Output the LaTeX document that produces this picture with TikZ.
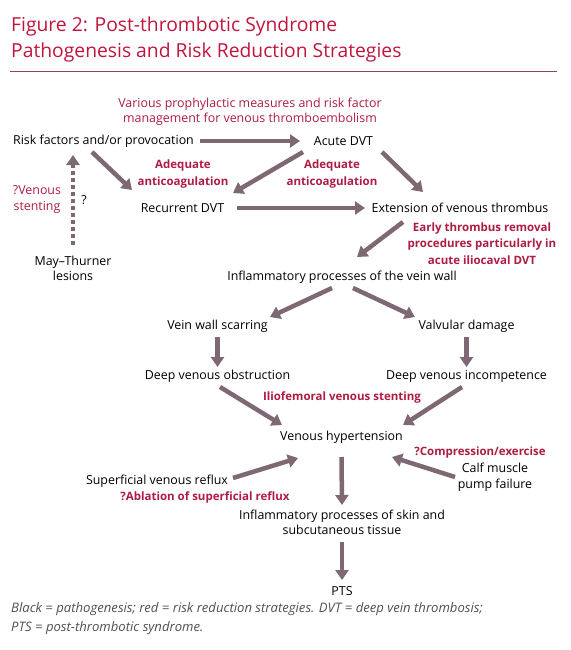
\documentclass[tikz,border=0pt]{standalone}
\usepackage{fontspec}
\setmainfont{Open Sans}
\usetikzlibrary{arrows.meta}
\definecolor{titlered}{RGB}{192,22,62}
\definecolor{labred}{RGB}{172,28,68}
\definecolor{arrgray}{RGB}{126,104,116}
\definecolor{rulecol}{RGB}{140,70,84}
\definecolor{capgray}{RGB}{80,80,80}
\tikzset{
  txt/.style={inner sep=0pt, font=\fontsize{12.4}{15.5}\selectfont, align=center, text=black},
  lab/.style={inner sep=0pt, font=\fontsize{11.5}{16.5}\selectfont\bfseries, align=center, text=labred},
  captxt/.style={anchor=base west, inner sep=0pt, text=capgray, font=\fontsize{13.1}{19}\selectfont\itshape},
  arr/.style={draw=arrgray, line width=4.5pt, -{Triangle[length=10pt,width=13pt]}},
  darr/.style={draw=arrgray, line width=4.5pt, dash pattern=on 4pt off 3pt, -{Triangle[length=10pt,width=13pt]}},
}
\begin{document}
\begin{tikzpicture}[x=1pt,y=-1pt]
\useasboundingbox (0,0) rectangle (570,650);
% title
\node[anchor=base west, inner sep=0pt, text=titlered, font=\fontsize{19.3}{26}\selectfont] (t1) at (11,32) {Figure 2: Post-thrombotic Syndrome};
\node[anchor=base west, inner sep=0pt, text=titlered, font=\fontsize{19.3}{26}\selectfont] (t2) at (11,58) {Pathogenesis and Risk Reduction Strategies};
\draw[rulecol, line width=1pt] (10,72) -- (557,72);

% nodes
\node[txt, text=labred] (various) at (250,111.5) {Various prophylactic measures and risk factor\\management for venous thromboembolism};
\node[txt] (risk) at (103.5,141) {Risk factors and/or provocation};
\node[txt] (acute) at (343.5,141) {Acute DVT};
\node[lab] (adeqL) at (183,174) {Adequate\\anticoagulation};
\node[lab] (adeqR) at (332,174) {Adequate\\anticoagulation};
\node[txt] (recur) at (182.5,208) {Recurrent DVT};
\node[txt] (ext) at (460,208) {Extension of venous thrombus};
\node[lab] (early) at (482,243.5) {Early thrombus removal\\procedures particularly in\\acute iliocaval DVT};
\node[txt] (inflam) at (342,277) {Inflammatory processes of the vein wall};
\node[txt, text=labred] (venst) at (37,199.5) {?Venous\\stenting};
\node[txt] (q) at (84,200) {?};
\node[txt] (may) at (73,268.5) {May--Thurner\\lesions};
\node[txt] (scar) at (217.5,326) {Vein wall scarring};
\node[txt] (valv) at (466.5,326) {Valvular damage};
\node[txt] (obst) at (217.5,376) {Deep venous obstruction};
\node[txt] (incomp) at (466.5,376) {Deep venous incompetence};
\node[lab] (ilio) at (342,397) {Iliofemoral venous stenting};
\node[txt] (hyper) at (341.5,437) {Venous hypertension};
\node[lab] (compr) at (480,453) {?Compression/exercise};
\node[txt] (calf) at (495,477) {Calf muscle\\pump failure};
\node[txt] (superf) at (157,481) {Superficial venous reflux};
\node[lab] (ablat) at (205,497) {?Ablation of superficial reflux};
\node[txt] (skin) at (342,522.5) {Inflammatory processes of skin and\\subcutaneous tissue};
\node[txt] (pts) at (342,591) {PTS};
\node[captxt] (cap1) at (11,612) {Black = pathogenesis; red = risk reduction strategies. DVT = deep vein thrombosis;};
\node[captxt] (cap2) at (11,631) {PTS = post-thrombotic syndrome.};

% connectors
\draw[arr] ([shift={(96.5,0)}]risk.center) -- ([shift={(-43.5,0)}]acute.center);
\draw[arr] ([shift={(-11.5,11)}]risk.center) -- ([shift={(-50.5,-18)}]recur.center);
\draw[arr] ([shift={(-40.5,11)}]acute.center) -- ([shift={(50.5,-15)}]recur.center);
\draw[arr] ([shift={(38.5,11)}]acute.center) -- ([shift={(-37,-16)}]ext.center);
\draw[arr] ([shift={(54.5,0)}]recur.center) -- ([shift={(-95,0)}]ext.center);
\draw[arr] ([shift={(-57,14)}]ext.center) -- ([shift={(15,-20)}]inflam.center);
\draw[arr] ([shift={(-10,11)}]inflam.center) -- ([shift={(52.5,-9)}]scar.center);
\draw[arr] ([shift={(11,11)}]inflam.center) -- ([shift={(-51.5,-9)}]valv.center);
\draw[arr] ([shift={(0,11)}]scar.center) -- ([shift={(0,-9)}]obst.center);
\draw[arr] ([shift={(0,11)}]valv.center) -- ([shift={(0,-9)}]incomp.center);
\draw[arr] ([shift={(2.5,11)}]obst.center) -- ([shift={(-59.5,-12)}]hyper.center);
\draw[arr] ([shift={(-4.5,11)}]incomp.center) -- ([shift={(61.5,-12)}]hyper.center);
\draw[arr] ([shift={(-40,0)}]calf.center) -- ([shift={(50.5,20)}]hyper.center);
\draw[arr] ([shift={(76,-3)}]superf.center) -- ([shift={(-43.5,21)}]hyper.center);
\draw[arr] ([shift={(0,20)}]hyper.center) -- ([shift={(0,-17.5)}]skin.center);
\draw[arr] ([shift={(0,19.5)}]skin.center) -- ([shift={(0,-11)}]pts.center);
\draw[darr] ([shift={(0,-23.5)}]may.center) -- ([shift={(-30.5,14)}]risk.center);
\end{tikzpicture}
\end{document}
